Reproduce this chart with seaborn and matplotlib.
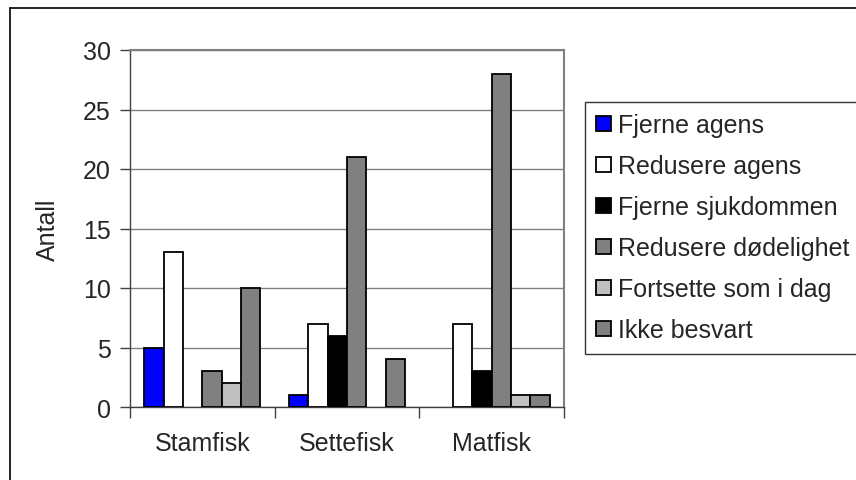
import matplotlib
matplotlib.use("Agg")
import matplotlib.pyplot as plt
from matplotlib.lines import Line2D
import seaborn as sns
import pandas as pd

categories = ["Stamfisk", "Settefisk", "Matfisk"]
series = ["Fjerne agens", "Redusere agens", "Fjerne sjukdommen",
          "Redusere dødelighet", "Fortsette som i dag", "Ikke besvart"]
fjerne_agens = [5, 1, 0]
redusere_agens = [13, 7, 7]
fjerne_sjukdommen = [0, 6, 3]
redusere_dodelighet = [3, 21, 28]
fortsette = [2, 0, 1]
ikke_besvart = [10, 4, 1]
colors = ["#0000FF", "#FFFFFF", "#000000", "#808080", "#C0C0C0", "#808080"]
y_ticks = [0, 5, 10, 15, 20, 25, 30]

values = [fjerne_agens, redusere_agens, fjerne_sjukdommen,
          redusere_dodelighet, fortsette, ikke_besvart]
rows = []
for s, vals in zip(series, values):
    for c, v in zip(categories, vals):
        rows.append({"Kategori": c, "Serie": s, "Antall": v})
df = pd.DataFrame(rows)

sns.set_style("white")
plt.rcParams["font.family"] = ["Liberation Sans", "DejaVu Sans"]
fs = 18

fig = plt.figure(figsize=(8.56, 4.81), dpi=100)
ax = fig.add_axes([130/856, 1-408/481, (564-130)/856, (408-51)/481])

sns.barplot(data=df, x="Kategori", y="Antall", hue="Serie", order=categories,
            hue_order=series, palette=colors, edgecolor="black", linewidth=1.3,
            saturation=1, width=0.8, ax=ax, zorder=3, legend=True)

# grab legend handles before hiding zero-height bars
handles, labels = ax.get_legend_handles_labels()
ax.get_legend().remove()

# zero-height bars are not drawn in the reference
for cont in ax.containers:
    for p in cont:
        if p.get_height() == 0:
            p.set_visible(False)

ax.set_ylim(0, 30)
ax.set_xlim(-0.5, 2.5)
ax.set_yticks(y_ticks)
ax.set_yticklabels([str(t) for t in y_ticks], fontsize=fs)
ax.yaxis.grid(True, color="#808080", linewidth=1)
ax.set_axisbelow(True)
ax.tick_params(axis="y", direction="out", length=7, width=1, color="#404040", pad=7, left=True)
ax.set_xticks([0, 1, 2])
ax.set_xticklabels(categories, fontsize=fs)
ax.tick_params(axis="x", which="major", length=0, pad=17)
ax.set_xticks([-0.5, 0.5, 1.5, 2.5], minor=True)
ax.tick_params(axis="x", which="minor", direction="out", length=8, width=1, color="#404040", bottom=True)
ax.set_xlabel("")
ax.set_ylabel("Antall", fontsize=fs, labelpad=16)

for side in ["left", "bottom"]:
    ax.spines[side].set_color("#404040")
    ax.spines[side].set_linewidth(1)
for side in ["top", "right"]:
    ax.spines[side].set_color("#808080")
    ax.spines[side].set_linewidth(1.5)

leg = fig.legend(handles, labels, loc="upper left",
                 bbox_to_anchor=(585/856, 1-103/481), bbox_transform=fig.transFigure,
                 borderaxespad=0, fontsize=fs, frameon=True, fancybox=False,
                 handlelength=0.6, handleheight=0.6, handletextpad=0.25,
                 labelspacing=0.68, borderpad=0.45)
leg.get_frame().set_edgecolor("black")
leg.get_frame().set_linewidth(1)
for h in leg.legend_handles:
    h.set_visible(True)

fig.add_artist(Line2D([10/856, 10/856], [0, 1-9/481], color="black", lw=1.2, transform=fig.transFigure))
fig.add_artist(Line2D([10/856, 1], [1-9/481, 1-9/481], color="black", lw=1.2, transform=fig.transFigure))

fig.savefig("out.png", dpi=100)
